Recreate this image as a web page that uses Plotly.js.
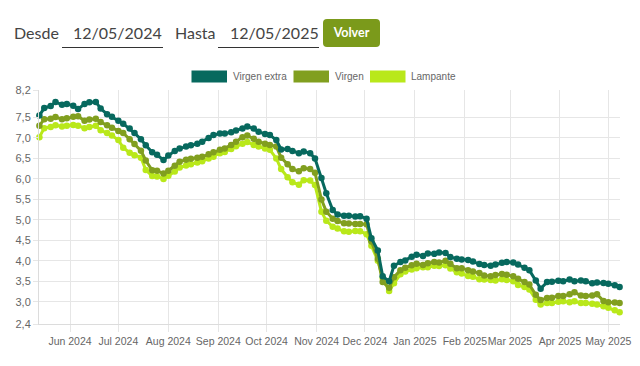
<!DOCTYPE html>
<html>
<head>
<meta charset="utf-8">
<script src="https://cdn.plot.ly/plotly-3.0.1.min.js"></script>
<style>
html,body{margin:0;padding:0;background:#fff;}
#wrap{position:relative;width:640px;height:366px;overflow:hidden;}
#chart{position:absolute;left:0;top:0;width:640px;height:366px;}
.ctl{position:absolute;font-family:Lato,"Open Sans",sans-serif;font-size:16px;color:#444;line-height:20px;top:23px;white-space:nowrap;z-index:2;}
.uline{position:absolute;height:1px;background:#333;top:47px;z-index:2;}
#btn{position:absolute;left:323px;top:19px;width:57px;height:28px;border-radius:4px;background:#7b9a1b;color:#fff;font-family:Lato,sans-serif;font-weight:bold;font-size:12.5px;line-height:28px;text-align:center;z-index:2;}
</style>
</head>
<body>
<div id="wrap">
  <div id="chart"></div>
  <div class="ctl" style="left:14px">Desde</div>
  <div class="ctl" style="left:73px">12/05/2024</div>
  <div class="uline" style="left:62px;width:101px"></div>
  <div class="ctl" style="left:175px">Hasta</div>
  <div class="ctl" style="left:230px">12/05/2025</div>
  <div class="uline" style="left:218px;width:101px"></div>
  <div id="btn">Volver</div>
</div>
<script>
// ---- data ----
const seriesNames = ["Virgen extra", "Virgen", "Lampante"];
const seriesColors = ["#07695e", "#819f1f", "#b9e81a"];

const dates = [
"2024-05-13","2024-05-16","2024-05-20","2024-05-23","2024-05-27","2024-05-30",
"2024-06-03","2024-06-06","2024-06-10","2024-06-13","2024-06-17","2024-06-20","2024-06-24","2024-06-27",
"2024-07-01","2024-07-04","2024-07-08","2024-07-11","2024-07-15","2024-07-18","2024-07-22","2024-07-25","2024-07-29","2024-08-01",
"2024-08-05","2024-08-08","2024-08-12","2024-08-15","2024-08-19","2024-08-22","2024-08-26","2024-08-29",
"2024-09-02","2024-09-05","2024-09-09","2024-09-12","2024-09-16","2024-09-19","2024-09-23","2024-09-26",
"2024-09-30","2024-10-03","2024-10-07","2024-10-10","2024-10-14","2024-10-17","2024-10-21","2024-10-24","2024-10-28","2024-10-31",
"2024-11-04","2024-11-07","2024-11-11","2024-11-14","2024-11-18","2024-11-21","2024-11-25","2024-11-28",
"2024-12-02","2024-12-05","2024-12-09","2024-12-12","2024-12-16","2024-12-19","2024-12-23","2024-12-26","2024-12-30","2025-01-02",
"2025-01-06","2025-01-09","2025-01-13","2025-01-16","2025-01-20","2025-01-23","2025-01-27","2025-01-30",
"2025-02-03","2025-02-06","2025-02-10","2025-02-13","2025-02-17","2025-02-20","2025-02-24","2025-02-27",
"2025-03-03","2025-03-06","2025-03-10","2025-03-13","2025-03-17","2025-03-20","2025-03-24","2025-03-27","2025-03-31","2025-04-03",
"2025-04-07","2025-04-10","2025-04-14","2025-04-17","2025-04-21","2025-04-24","2025-04-28","2025-05-01","2025-05-05","2025-05-08"
];

const virgenExtra = [
7.55,7.73,7.78,7.88,7.81,7.83,7.79,7.71,7.83,7.87,
7.88,7.72,7.58,7.52,7.42,7.35,7.23,7.12,6.97,6.82,
6.65,6.59,6.46,6.57,6.68,6.74,6.79,6.82,6.86,6.91,
7.00,7.07,7.11,7.11,7.14,7.18,7.23,7.28,7.23,7.15,
7.10,7.07,6.95,6.72,6.73,6.68,6.63,6.67,6.63,6.50,
6.02,5.65,5.24,5.13,5.10,5.10,5.08,5.09,5.03,4.55,
4.25,3.62,3.50,3.88,3.97,4.01,4.10,4.15,4.12,4.18,
4.17,4.20,4.19,4.09,4.05,4.03,4.02,3.98,3.92,3.90,
3.88,3.91,3.95,3.97,3.96,3.91,3.83,3.77,3.52,3.32,
3.48,3.49,3.51,3.50,3.54,3.50,3.52,3.50,3.45,3.47,
3.46,3.44,3.40,3.36
];

const virgen = [
7.30,7.46,7.47,7.51,7.46,7.48,7.52,7.53,7.42,7.45,
7.47,7.39,7.31,7.25,7.17,7.12,6.97,6.85,6.69,6.45,
6.21,6.20,6.13,6.20,6.32,6.42,6.47,6.49,6.52,6.54,
6.60,6.65,6.71,6.74,6.83,6.91,7.02,7.06,6.98,6.91,
6.86,6.83,6.79,6.52,6.36,6.24,6.19,6.26,6.24,6.15,
5.50,5.20,5.03,4.97,4.92,4.91,4.90,4.90,4.89,4.47,
4.05,3.48,3.34,3.60,3.77,3.83,3.89,3.93,3.90,3.94,
3.97,3.96,4.00,3.93,3.82,3.82,3.77,3.74,3.70,3.64,
3.62,3.65,3.68,3.66,3.62,3.56,3.48,3.42,3.17,3.04,
3.09,3.10,3.14,3.14,3.18,3.23,3.15,3.14,3.15,3.18,
3.02,2.99,2.98,2.97
];

const lampante = [
7.02,7.24,7.27,7.31,7.28,7.30,7.32,7.30,7.24,7.27,
7.30,7.19,7.12,7.06,6.95,6.76,6.64,6.58,6.52,6.22,
6.07,6.06,6.00,6.08,6.18,6.28,6.33,6.36,6.40,6.43,
6.50,6.54,6.63,6.66,6.73,6.80,6.86,6.90,6.83,6.79,
6.74,6.71,6.50,6.24,6.04,5.92,5.86,5.97,5.96,5.85,
5.20,4.98,4.83,4.79,4.72,4.71,4.73,4.72,4.65,4.37,
4.00,3.58,3.26,3.45,3.67,3.74,3.79,3.82,3.84,3.84,
3.88,3.87,3.89,3.81,3.72,3.69,3.63,3.61,3.55,3.54,
3.53,3.52,3.55,3.53,3.50,3.41,3.36,3.30,3.05,2.93,
2.97,2.97,3.00,3.01,2.99,3.01,2.97,2.97,2.95,2.93,
2.89,2.85,2.79,2.74
];

const monthTicks = ["2024-06-01","2024-07-01","2024-08-01","2024-09-01","2024-10-01","2024-11-01",
                    "2024-12-01","2025-01-01","2025-02-01","2025-03-01","2025-04-01","2025-05-01"];
const monthLabels = ["Jun 2024","Jul 2024","Aug 2024","Sep 2024","Oct 2024","Nov 2024",
                     "Dec 2024","Jan 2025","Feb 2025","Mar 2025","Apr 2025","May 2025"];
const yTickVals = [2.456,3.0,3.5,4.0,4.5,5.0,5.5,6.0,6.5,7.0,7.5,8.17];
const yTickText = ["2,4","3,0","3,5","4,0","4,5","5,0","5,5","6,0","6,5","7,0","7,5","8,2"];

// ---- chart ----
const allSeries = [virgenExtra, virgen, lampante];
const traces = [];
for (let i = allSeries.length - 1; i >= 0; i--) {
  traces.push({
    type: "scatter", mode: "lines+markers", name: seriesNames[i],
    x: dates, y: allSeries[i],
    line: {color: seriesColors[i], width: 3},
    marker: {color: seriesColors[i], size: 6.5},
    cliponaxis: false, hoverinfo: "skip"
  });
}

const W = 640, H = 366, ML = 39, MR = 20, MT = 90, MB = 42;
const pw = W - ML - MR, ph = H - MT - MB;
const px = v => (v - ML) / pw;
const py = v => (H - MB - v) / ph;

const legendBoxes = [[191.5, 227], [293.5, 329], [370, 405.5]];
const legendTextX = [231, 333, 409];
const shapes = [], annotations = [];
for (let i = 0; i < seriesNames.length; i++) {
  shapes.push({type: "rect", xref: "paper", yref: "paper",
    x0: px(legendBoxes[i][0]), x1: px(legendBoxes[i][1]), y0: py(82.5), y1: py(70.5),
    fillcolor: seriesColors[i], line: {width: 0}});
  annotations.push({xref: "paper", yref: "paper", x: px(legendTextX[i]), y: py(76.5),
    xanchor: "left", yanchor: "middle", showarrow: false, text: seriesNames[i],
    font: {family: "Liberation Sans, Arial, sans-serif", size: 10, color: "#666"}});
}

const yFont = {family: "Liberation Sans, Arial, sans-serif", size: 11, color: "#666"};
const xFont = {family: "Liberation Sans, Arial, sans-serif", size: 10.5, color: "#666"};
const layout = {
  width: W, height: H,
  margin: {l: ML, r: MR, t: MT, b: MB, pad: 0},
  paper_bgcolor: "#fff", plot_bgcolor: "#fff",
  showlegend: false,
  xaxis: {
    type: "date", range: ["2024-05-12 18:00", "2025-05-08 06:00"],
    tickmode: "array", tickvals: monthTicks, ticktext: monthLabels, tickangle: 0,
    showgrid: true, gridcolor: "#e6e6e6", gridwidth: 1,
    ticks: "outside", ticklen: 7, tickcolor: "#e6e6e6", tickwidth: 1,
    showline: true, linecolor: "#dcdcdc", linewidth: 1,
    zeroline: false, tickfont: xFont, fixedrange: true, automargin: false
  },
  yaxis: {
    range: [2.456, 8.172],
    tickmode: "array", tickvals: yTickVals, ticktext: yTickText,
    showgrid: true, gridcolor: "#e6e6e6", gridwidth: 1,
    ticks: "outside", ticklen: 5, tickcolor: "#e6e6e6", tickwidth: 1,
    showline: true, linecolor: "#dcdcdc", linewidth: 1,
    zeroline: false, tickfont: yFont, fixedrange: true, automargin: false
  },
  shapes: shapes,
  annotations: annotations
};

Plotly.newPlot("chart", traces, layout, {staticPlot: true, displayModeBar: false});
</script>
</body>
</html>
